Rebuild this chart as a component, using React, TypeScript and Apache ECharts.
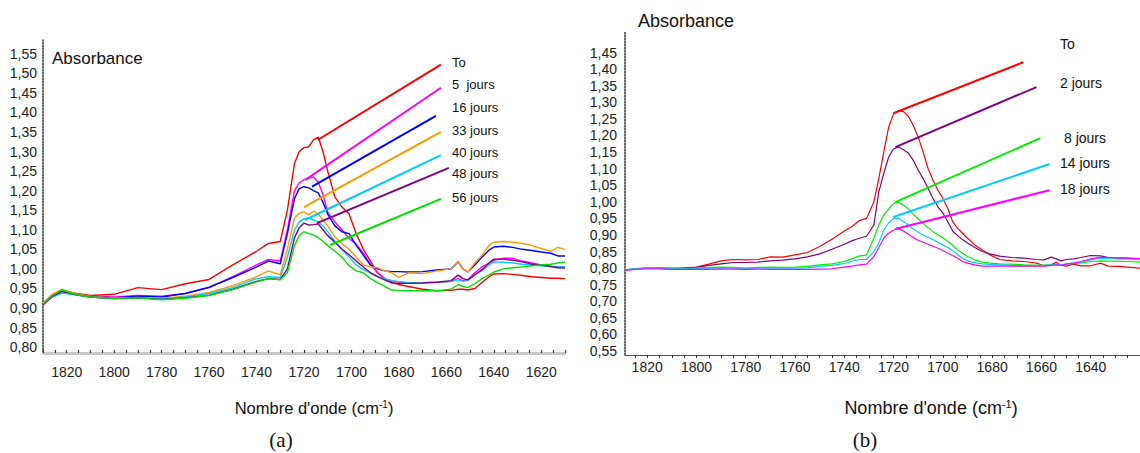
import React, { useEffect, useRef } from "react";
import * as echarts from "echarts";

// ---------- Panel (a) ----------
const X_A = [1830,1826,1822,1816,1810,1800,1790,1780,1770,1760,1750,1740,1735,1730,1727,1724,1722,1720,1718,1716,1714,1712,1710,1707,1704,1701,1698,1695,1692,1689,1686,1683,1680,1676,1670,1664,1658,1655,1653,1651,1648,1645,1642,1640,1636,1632,1628,1624,1620,1616,1613,1610];

const A_T0 = [0.912,0.935,0.945,0.937,0.932, 0.935,0.952,0.947,0.962,0.973, 1.01,1.045,1.065,1.07,1.15, 1.27,1.30,1.31,1.312,1.33, 1.337,1.30,1.25,1.184,1.158, 1.14,1.09,1.05,1.02,0.99, 0.975,0.966,0.96,0.955,0.948, 0.944,0.945,0.948,0.948,0.946, 0.95,0.965,0.98,0.987,0.988, 0.986,0.983,0.98,0.978,0.976, 0.976,0.975];
const A_D5 = [0.912,0.932,0.943,0.935,0.93, 0.928,0.932,0.93,0.937,0.952, 0.98,1.01,1.024,1.02,1.10, 1.20,1.22,1.228,1.232,1.235, 1.222,1.19,1.145,1.12,1.10, 1.078,1.063,1.04,1.012,0.99, 0.975,0.97,0.966,0.965,0.965, 0.966,0.968,0.975,0.97,0.972, 0.99,1.005,1.015,1.022,1.027, 1.027,1.02,1.015,1.01,1.007, 1.005,1.005];
const A_D16 = [0.91,0.93,0.942,0.935,0.93, 0.926,0.93,0.928,0.937,0.953, 0.978,1.005,1.02,1.013,1.09, 1.18,1.205,1.21,1.207,1.20, 1.194,1.17,1.14,1.11,1.095, 1.09,1.06,1.035,1.01,1.0, 0.995,0.993,0.993,0.992,0.993, 0.997,1.0,1.018,1.0,0.992, 1.01,1.03,1.048,1.056,1.058, 1.055,1.05,1.047,1.043,1.04, 1.033,1.033];
const A_D33 = [0.913,0.935,0.948,0.936,0.93, 0.925,0.927,0.925,0.93,0.94, 0.957,0.98,0.995,0.985,1.05, 1.13,1.142,1.146,1.138,1.148, 1.14,1.125,1.11,1.082,1.065, 1.05,1.03,1.01,1.005,1.003, 0.995,0.99,0.978,0.99,0.988, 0.995,1.0,1.018,1.0,0.992, 1.015,1.035,1.06,1.068,1.07, 1.068,1.065,1.06,1.052,1.045, 1.055,1.05];
const A_D40 = [0.91,0.928,0.938,0.933,0.928, 0.925,0.926,0.923,0.928,0.937, 0.952,0.975,0.98,0.978,1.03, 1.10,1.12,1.128,1.13,1.125, 1.12,1.11,1.095,1.07,1.05, 1.03,1.01,0.998,0.99,0.98, 0.975,0.97,0.967,0.965,0.965, 0.966,0.968,0.972,0.968,0.97, 0.985,0.995,1.01,1.018,1.017, 1.015,1.012,1.01,1.008,1.006, 1.005,1.005];
const A_D48 = [0.908,0.93,0.943,0.934,0.928, 0.924,0.926,0.922,0.926,0.933, 0.948,0.968,0.975,0.973,1.0, 1.08,1.105,1.117,1.112,1.113, 1.115,1.10,1.085,1.068,1.05, 1.036,1.02,1.005,0.99,0.98, 0.972,0.964,0.963,0.963,0.964, 0.966,0.97,0.984,0.975,0.972, 0.985,0.998,1.015,1.025,1.025, 1.022,1.018,1.012,1.01,1.006, 1.003,1.002];
const A_D56 = [0.91,0.932,0.946,0.934,0.928, 0.924,0.926,0.921,0.925,0.932, 0.947,0.967,0.975,0.972,0.99, 1.06,1.085,1.095,1.09,1.087, 1.08,1.07,1.06,1.045,1.03, 1.008,0.995,0.99,0.975,0.965, 0.955,0.946,0.945,0.944,0.944, 0.944,0.948,0.96,0.955,0.952, 0.962,0.975,0.985,0.992,1.0, 1.003,1.005,1.008,1.01,1.012, 1.015,1.018];

const NAMES_A = ["To", "5  jours", "16 jours", "33 jours", "40 jours", "48 jours", "56 jours"];
const COLORS_A = ["#ff0000", "#ff00ff", "#0000ff", "#ff9900", "#00ccff", "#800080", "#00e000"];
const VALUES_A = [A_T0, A_D5, A_D16, A_D33, A_D40, A_D48, A_D56];
// leader lines: [x1, y1, x2, y2] in data units
const LEADERS_A = [
  [1714.1, 1.330, 1662.3, 1.522],
  [1719.6, 1.227, 1662.3, 1.463],
  [1716.6, 1.210, 1664.4, 1.391],
  [1720.0, 1.158, 1662.3, 1.350],
  [1719.6, 1.125, 1662.3, 1.291],
  [1714.5, 1.117, 1658.9, 1.258],
  [1709.0, 1.061, 1662.3, 1.179],
];
const X_LABELS_A = [1820, 1800, 1780, 1760, 1740, 1720, 1700, 1680, 1660, 1640, 1620];
const Y_LABELS_A = [0.80,0.85,0.90,0.95,1.00,1.05,1.10,1.15,1.20,1.25,1.30,1.35,1.40,1.45,1.50,1.55];

// ---------- Panel (b) ----------
const X_B = [1829,1824,1820,1815,1810,1805,1800,1795,1790,1785,1780,1775,1770,1765,1760,1755,1750,1745,1740,1737,1734,1731,1728,1726,1724,1722,1720,1718,1716,1714,1712,1710,1708,1706,1704,1702,1700,1698,1696,1694,1692,1690,1687,1684,1681,1677,1672,1667,1662,1659,1656,1654,1652,1650,1647,1644,1640,1636,1633,1629,1625,1620];

const B_T0 = [0.795,0.798,0.80,0.80,0.80, 0.80,0.803,0.812,0.822,0.826, 0.825,0.826,0.834,0.833,0.84, 0.847,0.865,0.887,0.912,0.925, 0.943,0.95,1.00,1.07,1.15, 1.225,1.265,1.275,1.272,1.258, 1.23,1.195,1.15,1.10,1.065, 1.035,1.01,0.98,0.94,0.92, 0.905,0.89,0.87,0.855,0.84, 0.826,0.822,0.82,0.815,0.807, 0.81,0.818,0.808,0.806,0.812, 0.807,0.807,0.815,0.806,0.805, 0.803,0.80];
const B_D2 = [0.795,0.798,0.80,0.80,0.798, 0.80,0.802,0.808,0.813,0.817, 0.817,0.818,0.822,0.824,0.828, 0.834,0.843,0.857,0.872,0.882, 0.89,0.896,0.93,1.03,1.085, 1.135,1.16,1.165,1.157,1.147, 1.125,1.095,1.07,1.04,1.01, 0.985,0.966,0.94,0.912,0.898, 0.886,0.876,0.862,0.85,0.843, 0.836,0.832,0.83,0.826,0.825, 0.833,0.828,0.822,0.826,0.828, 0.832,0.838,0.837,0.832,0.83, 0.83,0.828];
const B_D8 = [0.795,0.798,0.80,0.799,0.798, 0.799,0.80,0.802,0.803,0.802, 0.80,0.802,0.803,0.802,0.803, 0.805,0.81,0.813,0.82,0.828, 0.836,0.84,0.89,0.93,0.96, 0.978,0.995,0.998,0.99,0.978, 0.963,0.948,0.935,0.922,0.91, 0.90,0.892,0.88,0.868,0.855, 0.845,0.835,0.825,0.818,0.815, 0.813,0.812,0.81,0.809,0.809, 0.81,0.812,0.81,0.812,0.814, 0.815,0.82,0.822,0.821,0.821, 0.82,0.818];
const B_D14 = [0.795,0.799,0.801,0.80,0.798, 0.798,0.799,0.80,0.80,0.80, 0.799,0.80,0.80,0.80,0.80, 0.801,0.805,0.808,0.814,0.82, 0.826,0.826,0.85,0.875,0.915, 0.936,0.95,0.95,0.94,0.93, 0.918,0.908,0.90,0.893,0.886, 0.878,0.87,0.862,0.852,0.84, 0.83,0.822,0.816,0.813,0.811, 0.81,0.808,0.807,0.807,0.808, 0.81,0.812,0.81,0.812,0.815, 0.818,0.825,0.83,0.829,0.828, 0.827,0.826];
const B_D18 = [0.793,0.797,0.798,0.798,0.796, 0.796,0.796,0.796,0.797,0.797, 0.796,0.797,0.796,0.796,0.796, 0.796,0.797,0.798,0.803,0.806, 0.81,0.812,0.835,0.862,0.89, 0.905,0.915,0.918,0.912,0.902, 0.892,0.884,0.878,0.872,0.866, 0.86,0.853,0.845,0.838,0.83, 0.82,0.815,0.81,0.806,0.806, 0.806,0.806,0.806,0.806,0.806, 0.808,0.81,0.808,0.812,0.815, 0.82,0.828,0.833,0.832,0.831, 0.83,0.829];

const NAMES_B = ["To", "2 jours", "8 jours", "14 jours", "18 jours"];
const COLORS_B = ["#ff0000", "#800080", "#00ee00", "#00ccff", "#ff00ff"];
const VALUES_B = [B_T0, B_D2, B_D8, B_D14, B_D18];
const LEADERS_B = [
  [1720.1, 1.267, 1667.3, 1.421],
  [1719.3, 1.165, 1662.0, 1.346],
  [1719.3, 0.999, 1660.4, 1.192],
  [1720.1, 0.954, 1656.7, 1.114],
  [1719.3, 0.918, 1656.7, 1.035],
];
const X_LABELS_B = [1820, 1800, 1780, 1760, 1740, 1720, 1700, 1680, 1660, 1640];
const Y_LABELS_B = [0.55,0.60,0.65,0.70,0.75,0.80,0.85,0.90,0.95,1.00,1.05,1.10,1.15,1.20,1.25,1.30,1.35,1.40,1.45];

const FONT = "'Liberation Sans', Arial, sans-serif";

function ticks(from: number, to: number, step: number) {
  const out: number[] = [];
  for (let v = from; v <= to + 1e-9; v += step) out.push(v);
  return out;
}

const fmt = (v: number) => v.toFixed(2).replace(".", ",");
const fmtX = (v: number) => String(Math.round(v));

function buildSeries(xs: number[], vals: number[][], colors: string[], names: string[], leaders: number[][], idx: number, width: number) {
  return vals.map((ys, i) => ({
    type: "line",
    name: names[i],
    xAxisIndex: idx,
    yAxisIndex: idx,
    data: xs.map((x, k) => [x, ys[k]]),
    showSymbol: false,
    symbol: "none",
    lineStyle: { color: colors[i], width },
    itemStyle: { color: colors[i] },
    markLine: {
      silent: true,
      symbol: ["none", "none"],
      label: { show: false },
      lineStyle: { color: colors[i], width: 2, type: "solid" },
      data: [[
        { coord: [leaders[i][0], leaders[i][1]] },
        { coord: [leaders[i][2], leaders[i][3]] },
      ]],
    },
  }));
}

export default function App() {
  const ref = useRef<HTMLDivElement>(null);
  useEffect(() => {
    const chart = echarts.init(ref.current!, null, { renderer: "svg" });
    const legendA = NAMES_A.map((n, i) => ({
      type: "text",
      x: 452,
      y: [62, 84, 107, 130, 152, 173, 197][i],
      style: { text: n, fontSize: 13, fontFamily: FONT, fill: "#111", verticalAlign: "middle" },
    }));
    const legendB = NAMES_B.map((n, i) => ({
      type: "text",
      x: i === 2 ? 1064 : 1060,
      y: [44, 83, 138, 163, 189][i],
      style: { text: n, fontSize: 14, fontFamily: FONT, fill: "#111", verticalAlign: "middle" },
    }));
    const option = {
      animation: false,
      backgroundColor: "#ffffff",
      grid: [
        { left: 43, top: 40, width: 522, height: 313 },
        { left: 625, top: 32, width: 515, height: 323 },
      ],
      xAxis: [
        {
          type: "value", gridIndex: 0, min: 1610, max: 1830, inverse: true,
          splitLine: { show: false },
          axisLine: { show: true, onZero: false, lineStyle: { color: "#c8c8c8", width: 3 } },
          axisTick: { show: true, inside: true, customValues: ticks(1610, 1830, 5), length: 3, lineStyle: { color: "#333", width: 1.2 } },
          axisLabel: { customValues: X_LABELS_A, formatter: fmtX, color: "#222", fontSize: 14, margin: 12, fontFamily: FONT },
        },
        {
          type: "value", gridIndex: 1, min: 1620, max: 1829, inverse: true,
          splitLine: { show: false },
          axisLine: { show: true, onZero: false, lineStyle: { color: "#555", width: 1 } },
          axisTick: { show: true, customValues: ticks(1625, 1825, 5), length: 3, lineStyle: { color: "#333", width: 1 } },
          axisLabel: { customValues: X_LABELS_B, formatter: fmtX, color: "#222", fontSize: 14, margin: 5, fontFamily: FONT },
        },
      ],
      yAxis: [
        {
          type: "value", gridIndex: 0, min: 0.785, max: 1.585,
          splitLine: { show: false },
          axisLine: { show: true, onZero: false, lineStyle: { color: "#333", width: 1.5, type: "dotted" } },
          axisTick: { show: false },
          axisLabel: { customValues: Y_LABELS_A, formatter: fmt, color: "#222", fontSize: 14, margin: 6, fontFamily: FONT },
        },
        {
          type: "value", gridIndex: 1, min: 0.538, max: 1.512,
          splitLine: { show: false },
          axisLine: { show: true, onZero: false, lineStyle: { color: "#333", width: 1.5, type: "dotted" } },
          axisTick: { show: false },
          axisLabel: { customValues: Y_LABELS_B, formatter: fmt, color: "#222", fontSize: 14, margin: 8, fontFamily: FONT },
        },
      ],
      series: [
        ...buildSeries(X_A, VALUES_A, COLORS_A, NAMES_A, LEADERS_A, 0, 1.4),
        ...buildSeries(X_B, VALUES_B, COLORS_B, NAMES_B, LEADERS_B, 1, 1.2),
      ],
      graphic: [
        { type: "text", x: 52, y: 58, style: { text: "Absorbance", fontSize: 17, fontFamily: FONT, fill: "#111", verticalAlign: "middle" } },
        { type: "text", x: 638, y: 21, style: { text: "Absorbance", fontSize: 18, fontFamily: FONT, fill: "#111", verticalAlign: "middle" } },
        {
          type: "text", x: 314, y: 408,
          style: {
            text: "Nombre d'onde (cm{sup|-1})", fontSize: 16.5, fontFamily: FONT, fill: "#111",
            align: "center", verticalAlign: "middle",
            rich: { sup: { fontSize: 10, fontFamily: FONT, fill: "#111", padding: [0, 0, 8, 0] } },
          },
        },
        {
          type: "text", x: 931, y: 408,
          style: {
            text: "Nombre d'onde (cm{sup|-1})", fontSize: 18, fontFamily: FONT, fill: "#111",
            align: "center", verticalAlign: "middle",
            rich: { sup: { fontSize: 11, fontFamily: FONT, fill: "#111", padding: [0, 0, 9, 0] } },
          },
        },
        { type: "text", x: 281, y: 440, style: { text: "(a)", fontSize: 21, fontFamily: "'Liberation Serif', 'DejaVu Serif', serif", fill: "#111", align: "center", verticalAlign: "middle" } },
        { type: "text", x: 865, y: 440, style: { text: "(b)", fontSize: 21, fontFamily: "'Liberation Serif', 'DejaVu Serif', serif", fill: "#111", align: "center", verticalAlign: "middle" } },
        ...legendA,
        ...legendB,
      ],
    };
    chart.setOption(option as any);
    return () => chart.dispose();
  }, []);
  return <div ref={ref} style={{ position: "fixed", left: 0, top: 0, width: 1140, height: 453, background: "#fff" }} />;
}
